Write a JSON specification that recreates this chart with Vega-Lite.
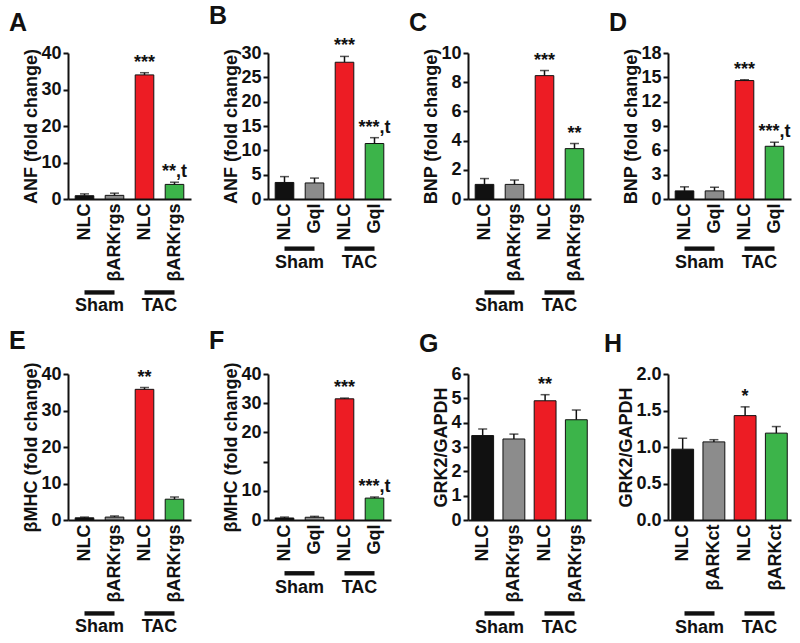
{
"$schema":"https://vega.github.io/schema/vega-lite/v6.json",
"background":"white",
"padding":{"left":8,"top":4,"right":5,"bottom":5},
"config":{
 "font":"Liberation Sans",
 "view":{"stroke":null},
 "axis":{"labelFont":"Liberation Sans","labelFontWeight":"bold","labelFontSize":18,"labelColor":"#111","titleFont":"Liberation Sans","titleFontWeight":"bold","titleFontSize":18,"titleColor":"#111","domainColor":"#111","domainWidth":2,"tickColor":"#111","tickWidth":2,"grid":false},
 "axisY":{"tickSize":5,"titlePadding":0,"labelPadding":2},
 "axisX":{"ticks":false,"labelAngle":270,"labelPadding":4,"title":null},
 "title":{"fontSize":25,"fontWeight":"bold","anchor":"start","frame":"bounds","color":"#111","font":"Liberation Sans","dx":-14,"offset":8},
 "text":{"font":"Liberation Sans"}
},
"vconcat":[
{"hconcat":[
 {"width":123,"height":146,"title":{"text":"A"},"resolve":{"scale":{"x":"independent","y":"independent"}},
  "layer":[
   {"data":{"values":[{"k":"Sham|NLC","c":"c1","v":0.9,"hi":1.4,"sig":""},{"k":"Sham|βARKrgs","c":"c2","v":1.0,"hi":1.6,"sig":""},{"k":"TAC|NLC","c":"c3","v":34.0,"hi":34.6,"sig":"***"},{"k":"TAC|βARKrgs","c":"c4","v":4.0,"hi":4.6,"sig":"**,t"}]},
    "encoding":{"x":{"field":"k","type":"nominal","sort":null,"scale":{"paddingInner":0.38,"paddingOuter":0.24},"axis":{"labelExpr":"split(datum.label,'|')[1]"}},"y":{"field":"v","type":"quantitative","scale":{"domain":[0,40],"nice":false},"axis":{"values":[0,10,20,30,40],"title":"ANF (fold change)"}}},
    "layer":[
     {"mark":{"type":"bar","stroke":"#111","strokeWidth":1},"encoding":{"color":{"field":"c","type":"nominal","scale":{"domain":["c1","c2","c3","c4"],"range":["#111111","#8c8c8c","#ed1c24","#3cb44a"]},"legend":null}}},
     {"mark":{"type":"rule","color":"#111","strokeWidth":1.5},"encoding":{"y2":{"field":"hi"}}},
     {"mark":{"type":"tick","color":"#111","thickness":1.5,"size":9},"encoding":{"y":{"field":"hi","type":"quantitative"}}},
     {"mark":{"type":"text","fontSize":18,"fontWeight":"bold","baseline":"bottom","dy":-1,"color":"#111"},"encoding":{"y":{"field":"hi","type":"quantitative"},"text":{"field":"sig"}}}
    ]},
   {"data":{"values":[{"g":"Sham"},{"g":"TAC"}]},
    "encoding":{"x":{"field":"g","type":"nominal","sort":null,"scale":{"paddingInner":0.5,"paddingOuter":0.275},"axis":null}},
    "layer":[
     {"mark":{"type":"bar","color":"#111"},"encoding":{"y":{"datum":-0.625,"type":"quantitative","scale":{"domain":[0,1],"nice":false},"axis":null},"y2":{"datum":-0.655}}},
     {"mark":{"type":"text","fontSize":18,"fontWeight":"bold","baseline":"middle","color":"#111"},"encoding":{"y":{"datum":-0.735,"type":"quantitative"},"text":{"field":"g"}}}
    ]}
  ]},
 {"width":123,"height":146,"title":{"text":"B"},"resolve":{"scale":{"x":"independent","y":"independent"}},
  "layer":[
   {"data":{"values":[{"k":"Sham|NLC","c":"c1","v":3.4,"hi":4.6,"sig":""},{"k":"Sham|GqI","c":"c2","v":3.3,"hi":4.3,"sig":""},{"k":"TAC|NLC","c":"c3","v":28.1,"hi":29.3,"sig":"***"},{"k":"TAC|GqI","c":"c4","v":11.4,"hi":12.6,"sig":"***,t"}]},
    "encoding":{"x":{"field":"k","type":"nominal","sort":null,"scale":{"paddingInner":0.38,"paddingOuter":0.24},"axis":{"labelExpr":"split(datum.label,'|')[1]"}},"y":{"field":"v","type":"quantitative","scale":{"domain":[0,30],"nice":false},"axis":{"values":[0,5,10,15,20,25,30],"title":"ANF (fold change)"}}},
    "layer":[
     {"mark":{"type":"bar","stroke":"#111","strokeWidth":1},"encoding":{"color":{"field":"c","type":"nominal","scale":{"domain":["c1","c2","c3","c4"],"range":["#111111","#8c8c8c","#ed1c24","#3cb44a"]},"legend":null}}},
     {"mark":{"type":"rule","color":"#111","strokeWidth":1.5},"encoding":{"y2":{"field":"hi"}}},
     {"mark":{"type":"tick","color":"#111","thickness":1.5,"size":9},"encoding":{"y":{"field":"hi","type":"quantitative"}}},
     {"mark":{"type":"text","fontSize":18,"fontWeight":"bold","baseline":"bottom","dy":-1,"color":"#111"},"encoding":{"y":{"field":"hi","type":"quantitative"},"text":{"field":"sig"}}}
    ]},
   {"data":{"values":[{"g":"Sham"},{"g":"TAC"}]},
    "encoding":{"x":{"field":"g","type":"nominal","sort":null,"scale":{"paddingInner":0.5,"paddingOuter":0.275},"axis":null}},
    "layer":[
     {"mark":{"type":"bar","color":"#111"},"encoding":{"y":{"datum":-0.325,"type":"quantitative","scale":{"domain":[0,1],"nice":false},"axis":null},"y2":{"datum":-0.355}}},
     {"mark":{"type":"text","fontSize":18,"fontWeight":"bold","baseline":"middle","color":"#111"},"encoding":{"y":{"datum":-0.44,"type":"quantitative"},"text":{"field":"g"}}}
    ]}
  ]},
 {"width":123,"height":146,"title":{"text":"C"},"resolve":{"scale":{"x":"independent","y":"independent"}},
  "layer":[
   {"data":{"values":[{"k":"Sham|NLC","c":"c1","v":1.0,"hi":1.4,"sig":""},{"k":"Sham|βARKrgs","c":"c2","v":1.0,"hi":1.3,"sig":""},{"k":"TAC|NLC","c":"c3","v":8.45,"hi":8.8,"sig":"***"},{"k":"TAC|βARKrgs","c":"c4","v":3.45,"hi":3.8,"sig":"**"}]},
    "encoding":{"x":{"field":"k","type":"nominal","sort":null,"scale":{"paddingInner":0.38,"paddingOuter":0.24},"axis":{"labelExpr":"split(datum.label,'|')[1]"}},"y":{"field":"v","type":"quantitative","scale":{"domain":[0,10],"nice":false},"axis":{"values":[0,2,4,6,8,10],"title":"BNP (fold change)"}}},
    "layer":[
     {"mark":{"type":"bar","stroke":"#111","strokeWidth":1},"encoding":{"color":{"field":"c","type":"nominal","scale":{"domain":["c1","c2","c3","c4"],"range":["#111111","#8c8c8c","#ed1c24","#3cb44a"]},"legend":null}}},
     {"mark":{"type":"rule","color":"#111","strokeWidth":1.5},"encoding":{"y2":{"field":"hi"}}},
     {"mark":{"type":"tick","color":"#111","thickness":1.5,"size":9},"encoding":{"y":{"field":"hi","type":"quantitative"}}},
     {"mark":{"type":"text","fontSize":18,"fontWeight":"bold","baseline":"bottom","dy":-1,"color":"#111"},"encoding":{"y":{"field":"hi","type":"quantitative"},"text":{"field":"sig"}}}
    ]},
   {"data":{"values":[{"g":"Sham"},{"g":"TAC"}]},
    "encoding":{"x":{"field":"g","type":"nominal","sort":null,"scale":{"paddingInner":0.5,"paddingOuter":0.275},"axis":null}},
    "layer":[
     {"mark":{"type":"bar","color":"#111"},"encoding":{"y":{"datum":-0.625,"type":"quantitative","scale":{"domain":[0,1],"nice":false},"axis":null},"y2":{"datum":-0.655}}},
     {"mark":{"type":"text","fontSize":18,"fontWeight":"bold","baseline":"middle","color":"#111"},"encoding":{"y":{"datum":-0.735,"type":"quantitative"},"text":{"field":"g"}}}
    ]}
  ]},
 {"width":123,"height":146,"title":{"text":"D"},"resolve":{"scale":{"x":"independent","y":"independent"}},
  "layer":[
   {"data":{"values":[{"k":"Sham|NLC","c":"c1","v":1.0,"hi":1.5,"sig":""},{"k":"Sham|GqI","c":"c2","v":1.0,"hi":1.45,"sig":""},{"k":"TAC|NLC","c":"c3","v":14.6,"hi":14.7,"sig":"***"},{"k":"TAC|GqI","c":"c4","v":6.5,"hi":7.0,"sig":"***,t"}]},
    "encoding":{"x":{"field":"k","type":"nominal","sort":null,"scale":{"paddingInner":0.38,"paddingOuter":0.24},"axis":{"labelExpr":"split(datum.label,'|')[1]"}},"y":{"field":"v","type":"quantitative","scale":{"domain":[0,18],"nice":false},"axis":{"values":[0,3,6,9,12,15,18],"title":"BNP (fold change)"}}},
    "layer":[
     {"mark":{"type":"bar","stroke":"#111","strokeWidth":1},"encoding":{"color":{"field":"c","type":"nominal","scale":{"domain":["c1","c2","c3","c4"],"range":["#111111","#8c8c8c","#ed1c24","#3cb44a"]},"legend":null}}},
     {"mark":{"type":"rule","color":"#111","strokeWidth":1.5},"encoding":{"y2":{"field":"hi"}}},
     {"mark":{"type":"tick","color":"#111","thickness":1.5,"size":9},"encoding":{"y":{"field":"hi","type":"quantitative"}}},
     {"mark":{"type":"text","fontSize":18,"fontWeight":"bold","baseline":"bottom","dy":-1,"color":"#111"},"encoding":{"y":{"field":"hi","type":"quantitative"},"text":{"field":"sig"}}}
    ]},
   {"data":{"values":[{"g":"Sham"},{"g":"TAC"}]},
    "encoding":{"x":{"field":"g","type":"nominal","sort":null,"scale":{"paddingInner":0.5,"paddingOuter":0.275},"axis":null}},
    "layer":[
     {"mark":{"type":"bar","color":"#111"},"encoding":{"y":{"datum":-0.325,"type":"quantitative","scale":{"domain":[0,1],"nice":false},"axis":null},"y2":{"datum":-0.355}}},
     {"mark":{"type":"text","fontSize":18,"fontWeight":"bold","baseline":"middle","color":"#111"},"encoding":{"y":{"datum":-0.44,"type":"quantitative"},"text":{"field":"g"}}}
    ]}
  ]}
],"spacing":77,"bounds":"flush"},
{"hconcat":[
 {"width":123,"height":146,"title":{"text":"E"},"resolve":{"scale":{"x":"independent","y":"independent"}},
  "layer":[
   {"data":{"values":[{"k":"Sham|NLC","c":"c1","v":0.6,"hi":0.8,"sig":""},{"k":"Sham|βARKrgs","c":"c2","v":0.8,"hi":1.1,"sig":""},{"k":"TAC|NLC","c":"c3","v":35.8,"hi":36.3,"sig":"**"},{"k":"TAC|βARKrgs","c":"c4","v":5.7,"hi":6.3,"sig":""}]},
    "encoding":{"x":{"field":"k","type":"nominal","sort":null,"scale":{"paddingInner":0.38,"paddingOuter":0.24},"axis":{"labelExpr":"split(datum.label,'|')[1]"}},"y":{"field":"v","type":"quantitative","scale":{"domain":[0,40],"nice":false},"axis":{"values":[0,10,20,30,40],"title":"βMHC (fold change)"}}},
    "layer":[
     {"mark":{"type":"bar","stroke":"#111","strokeWidth":1},"encoding":{"color":{"field":"c","type":"nominal","scale":{"domain":["c1","c2","c3","c4"],"range":["#111111","#8c8c8c","#ed1c24","#3cb44a"]},"legend":null}}},
     {"mark":{"type":"rule","color":"#111","strokeWidth":1.5},"encoding":{"y2":{"field":"hi"}}},
     {"mark":{"type":"tick","color":"#111","thickness":1.5,"size":9},"encoding":{"y":{"field":"hi","type":"quantitative"}}},
     {"mark":{"type":"text","fontSize":18,"fontWeight":"bold","baseline":"bottom","dy":-1,"color":"#111"},"encoding":{"y":{"field":"hi","type":"quantitative"},"text":{"field":"sig"}}}
    ]},
   {"data":{"values":[{"g":"Sham"},{"g":"TAC"}]},
    "encoding":{"x":{"field":"g","type":"nominal","sort":null,"scale":{"paddingInner":0.5,"paddingOuter":0.275},"axis":null}},
    "layer":[
     {"mark":{"type":"bar","color":"#111"},"encoding":{"y":{"datum":-0.625,"type":"quantitative","scale":{"domain":[0,1],"nice":false},"axis":null},"y2":{"datum":-0.655}}},
     {"mark":{"type":"text","fontSize":18,"fontWeight":"bold","baseline":"middle","color":"#111"},"encoding":{"y":{"datum":-0.735,"type":"quantitative"},"text":{"field":"g"}}}
    ]}
  ]},
 {"width":123,"height":146,"title":{"text":"F"},"resolve":{"scale":{"x":"independent","y":"independent"}},
  "layer":[
   {"data":{"values":[{"k":"Sham|NLC","c":"c1","v":0.55,"hi":0.8,"sig":""},{"k":"Sham|GqI","c":"c2","v":0.75,"hi":1.0,"sig":""},{"k":"TAC|NLC","c":"c3","v":33.2,"hi":33.4,"sig":"***"},{"k":"TAC|GqI","c":"c4","v":6.0,"hi":6.3,"sig":"***,t"}]},
    "encoding":{"x":{"field":"k","type":"nominal","sort":null,"scale":{"paddingInner":0.38,"paddingOuter":0.24},"axis":{"labelExpr":"split(datum.label,'|')[1]"}},"y":{"field":"v","type":"quantitative","scale":{"domain":[0,40],"nice":false},"axis":{"values":[0,8,16,24,32,40],"labelExpr":"datum.value==0?'0':datum.value==8?'10':datum.value==16?'':datum.value==24?'20':datum.value==32?'30':'40'","title":"βMHC (fold change)"}}},
    "layer":[
     {"mark":{"type":"bar","stroke":"#111","strokeWidth":1},"encoding":{"color":{"field":"c","type":"nominal","scale":{"domain":["c1","c2","c3","c4"],"range":["#111111","#8c8c8c","#ed1c24","#3cb44a"]},"legend":null}}},
     {"mark":{"type":"rule","color":"#111","strokeWidth":1.5},"encoding":{"y2":{"field":"hi"}}},
     {"mark":{"type":"tick","color":"#111","thickness":1.5,"size":9},"encoding":{"y":{"field":"hi","type":"quantitative"}}},
     {"mark":{"type":"text","fontSize":18,"fontWeight":"bold","baseline":"bottom","dy":-1,"color":"#111"},"encoding":{"y":{"field":"hi","type":"quantitative"},"text":{"field":"sig"}}}
    ]},
   {"data":{"values":[{"g":"Sham"},{"g":"TAC"}]},
    "encoding":{"x":{"field":"g","type":"nominal","sort":null,"scale":{"paddingInner":0.5,"paddingOuter":0.275},"axis":null}},
    "layer":[
     {"mark":{"type":"bar","color":"#111"},"encoding":{"y":{"datum":-0.35,"type":"quantitative","scale":{"domain":[0,1],"nice":false},"axis":null},"y2":{"datum":-0.38}}},
     {"mark":{"type":"text","fontSize":18,"fontWeight":"bold","baseline":"middle","color":"#111"},"encoding":{"y":{"datum":-0.465,"type":"quantitative"},"text":{"field":"g"}}}
    ]}
  ]},
 {"width":123,"height":146,"title":{"text":"G"},"resolve":{"scale":{"x":"independent","y":"independent"}},
  "layer":[
   {"data":{"values":[{"k":"Sham|NLC","c":"c1","v":3.47,"hi":3.74,"sig":""},{"k":"Sham|βARKrgs","c":"c2","v":3.33,"hi":3.53,"sig":""},{"k":"TAC|NLC","c":"c3","v":4.9,"hi":5.15,"sig":"**"},{"k":"TAC|βARKrgs","c":"c4","v":4.12,"hi":4.52,"sig":""}]},
    "encoding":{"x":{"field":"k","type":"nominal","sort":null,"scale":{"paddingInner":0.3,"paddingOuter":0.12},"axis":{"labelExpr":"split(datum.label,'|')[1]"}},"y":{"field":"v","type":"quantitative","scale":{"domain":[0,6],"nice":false},"axis":{"values":[0,1,2,3,4,5,6],"title":"GRK2/GAPDH"}}},
    "layer":[
     {"mark":{"type":"bar","stroke":"#111","strokeWidth":1},"encoding":{"color":{"field":"c","type":"nominal","scale":{"domain":["c1","c2","c3","c4"],"range":["#111111","#8c8c8c","#ed1c24","#3cb44a"]},"legend":null}}},
     {"mark":{"type":"rule","color":"#111","strokeWidth":1.5},"encoding":{"y2":{"field":"hi"}}},
     {"mark":{"type":"tick","color":"#111","thickness":1.5,"size":9},"encoding":{"y":{"field":"hi","type":"quantitative"}}},
     {"mark":{"type":"text","fontSize":18,"fontWeight":"bold","baseline":"bottom","dy":-1,"color":"#111"},"encoding":{"y":{"field":"hi","type":"quantitative"},"text":{"field":"sig"}}}
    ]},
   {"data":{"values":[{"g":"Sham"},{"g":"TAC"}]},
    "encoding":{"x":{"field":"g","type":"nominal","sort":null,"scale":{"paddingInner":0.5,"paddingOuter":0.275},"axis":null}},
    "layer":[
     {"mark":{"type":"bar","color":"#111"},"encoding":{"y":{"datum":-0.625,"type":"quantitative","scale":{"domain":[0,1],"nice":false},"axis":null},"y2":{"datum":-0.655}}},
     {"mark":{"type":"text","fontSize":18,"fontWeight":"bold","baseline":"middle","color":"#111"},"encoding":{"y":{"datum":-0.74,"type":"quantitative"},"text":{"field":"g"}}}
    ]}
  ]},
 {"width":123,"height":146,"title":{"text":"H"},"resolve":{"scale":{"x":"independent","y":"independent"}},
  "layer":[
   {"data":{"values":[{"k":"Sham|NLC","c":"c1","v":0.97,"hi":1.12,"sig":""},{"k":"Sham|βARKct","c":"c2","v":1.07,"hi":1.1,"sig":""},{"k":"TAC|NLC","c":"c3","v":1.43,"hi":1.55,"sig":"*"},{"k":"TAC|βARKct","c":"c4","v":1.19,"hi":1.28,"sig":""}]},
    "encoding":{"x":{"field":"k","type":"nominal","sort":null,"scale":{"paddingInner":0.3,"paddingOuter":0.12},"axis":{"labelExpr":"split(datum.label,'|')[1]"}},"y":{"field":"v","type":"quantitative","scale":{"domain":[0,2],"nice":false},"axis":{"values":[0,0.5,1,1.5,2],"format":".1f","title":"GRK2/GAPDH"}}},
    "layer":[
     {"mark":{"type":"bar","stroke":"#111","strokeWidth":1},"encoding":{"color":{"field":"c","type":"nominal","scale":{"domain":["c1","c2","c3","c4"],"range":["#111111","#8c8c8c","#ed1c24","#3cb44a"]},"legend":null}}},
     {"mark":{"type":"rule","color":"#111","strokeWidth":1.5},"encoding":{"y2":{"field":"hi"}}},
     {"mark":{"type":"tick","color":"#111","thickness":1.5,"size":9},"encoding":{"y":{"field":"hi","type":"quantitative"}}},
     {"mark":{"type":"text","fontSize":18,"fontWeight":"bold","baseline":"bottom","dy":-1,"color":"#111"},"encoding":{"y":{"field":"hi","type":"quantitative"},"text":{"field":"sig"}}}
    ]},
   {"data":{"values":[{"g":"Sham"},{"g":"TAC"}]},
    "encoding":{"x":{"field":"g","type":"nominal","sort":null,"scale":{"paddingInner":0.5,"paddingOuter":0.275},"axis":null}},
    "layer":[
     {"mark":{"type":"bar","color":"#111"},"encoding":{"y":{"datum":-0.625,"type":"quantitative","scale":{"domain":[0,1],"nice":false},"axis":null},"y2":{"datum":-0.655}}},
     {"mark":{"type":"text","fontSize":18,"fontWeight":"bold","baseline":"middle","color":"#111"},"encoding":{"y":{"datum":-0.74,"type":"quantitative"},"text":{"field":"g"}}}
    ]}
  ]}
],"spacing":77,"bounds":"flush"}
],"spacing":321,"bounds":"flush"
}
